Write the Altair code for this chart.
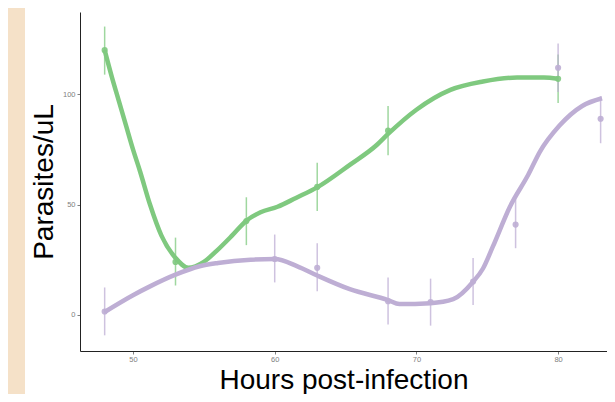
import altair as alt
import pandas as pd

green_hours = [48, 53, 58, 63, 68, 80]
green_mean = [120, 24, 42.5, 58, 83.5, 107]
green_low = [108.9, 13.3, 31.6, 47.1, 72.4, 96]
green_high = [130.7, 35, 53.3, 68.9, 94.7, 118]

purple_hours = [48, 60, 63, 68, 71, 74, 77, 80, 83]
purple_mean = [1.5, 25.3, 21.3, 6.2, 5.8, 15.1, 40.9, 112, 88.9]
purple_low = [-9.3, 14.7, 10.7, -4.4, -4.9, 4.4, 30.2, 101, 77.8]
purple_high = [12.4, 36.4, 32.4, 16.9, 16.4, 25.8, 52.4, 123, 99]

# Smoothed curves
green_curve_hours = [48, 48.5, 49, 49.5, 50, 50.5, 51.2, 52, 53, 53.9, 55, 55.9, 57, 58,
                     59, 60.2, 61.5, 63, 65.3, 67.2, 68, 70, 72.4, 74.7, 77.1, 79, 80]
green_curve_values = [120, 108, 97, 86, 75, 65, 50, 36, 25.8, 21.3, 24, 29, 36, 42.7,
                      46.5, 49, 53, 57.8, 68, 77, 82, 93, 102, 105.8, 107.6, 107.6, 107]

purple_curve_hours = [48, 50, 51.2, 53, 54.7, 56, 58.3, 60, 61.6, 63, 65.3, 68, 68.8,
                      71, 72.6, 74, 74.7, 75.4, 76.6, 77.9, 78.7, 80.1, 81.7, 83.1]
purple_curve_values = [1.3, 8.9, 12.9, 18.2, 22, 23.5, 25, 25.3, 22, 17.8, 11.6, 6.7, 4.9,
                       5.3, 7.1, 15, 21, 31, 49, 63.6, 73.8, 85.8, 94.7, 98.2]

x_ticks = [50, 60, 70, 80]
y_ticks = [0, 50, 100]

GREEN = "#7fc97f"
PURPLE = "#beaed4"
BEIGE = "#f5e1c8"

obs = pd.concat([
    pd.DataFrame({"hours": green_hours, "mean": green_mean, "low": green_low,
                  "high": green_high, "series": "green"}),
    pd.DataFrame({"hours": purple_hours, "mean": purple_mean, "low": purple_low,
                  "high": purple_high, "series": "purple"}),
])
curves = pd.concat([
    pd.DataFrame({"hours": green_curve_hours, "value": green_curve_values, "series": "green"}),
    pd.DataFrame({"hours": purple_curve_hours, "value": purple_curve_values, "series": "purple"}),
])

xs = alt.Scale(domain=[46.26, 83.45], nice=False, zero=False)
ys = alt.Scale(domain=[-16.4, 137.3], nice=False, zero=False)
cs = alt.Scale(domain=["green", "purple"], range=[GREEN, PURPLE])

xaxis = alt.Axis(values=x_ticks, title="Hours post-infection", grid=False,
                 titleFontSize=28, titleFontWeight="normal", titleColor="black",
                 titleFont="Liberation Sans", titleBaseline="alphabetic", titleY=37,
                 labelFontSize=7.5, labelColor="#808080", labelPadding=1,
                 tickColor="#808080", tickSize=3, domainColor="#222222", zindex=1)
yaxis = alt.Axis(values=y_ticks, title="Parasites/uL", grid=False,
                 titleFontSize=28, titleFontWeight="normal", titleColor="black",
                 titleFont="Liberation Sans", titleBaseline="alphabetic", titleX=-28,
                 titleAngle=-90,
                 labelFontSize=7.5, labelColor="#808080", labelPadding=2,
                 tickColor="#808080", tickSize=3, domainColor="#222222", zindex=1)

panel = alt.Chart(pd.DataFrame({"a": [0]})).mark_rect(color="white", clip=False).encode(
    x=alt.value(-55), x2=alt.value(527), y=alt.value(-4), y2=alt.value(382)
)

bars = alt.Chart(obs).mark_rule(strokeWidth=1.5, opacity=0.75).encode(
    x=alt.X("hours:Q", scale=xs, axis=xaxis),
    y=alt.Y("low:Q", scale=ys, axis=yaxis),
    y2="high:Q",
    color=alt.Color("series:N", scale=cs, legend=None),
)

points = alt.Chart(obs).mark_circle(size=38, opacity=0.9).encode(
    x=alt.X("hours:Q", scale=xs),
    y=alt.Y("mean:Q", scale=ys),
    color=alt.Color("series:N", scale=cs, legend=None),
)

lines = alt.Chart(curves).mark_line(strokeWidth=4.5, interpolate="monotone").encode(
    x=alt.X("hours:Q", scale=xs),
    y=alt.Y("value:Q", scale=ys),
    color=alt.Color("series:N", scale=cs, legend=None),
    detail="series:N",
)

chart = alt.layer(panel, bars, points, lines).properties(
    width=527, height=339,
    background=BEIGE,
    padding={"left": 72, "top": 4, "right": 0, "bottom": 43},
    autosize=alt.AutoSizeParams(type="none"),
).configure_view(stroke=None)

chart.save("out.html", embed_options={"renderer": "svg", "actions": False})
